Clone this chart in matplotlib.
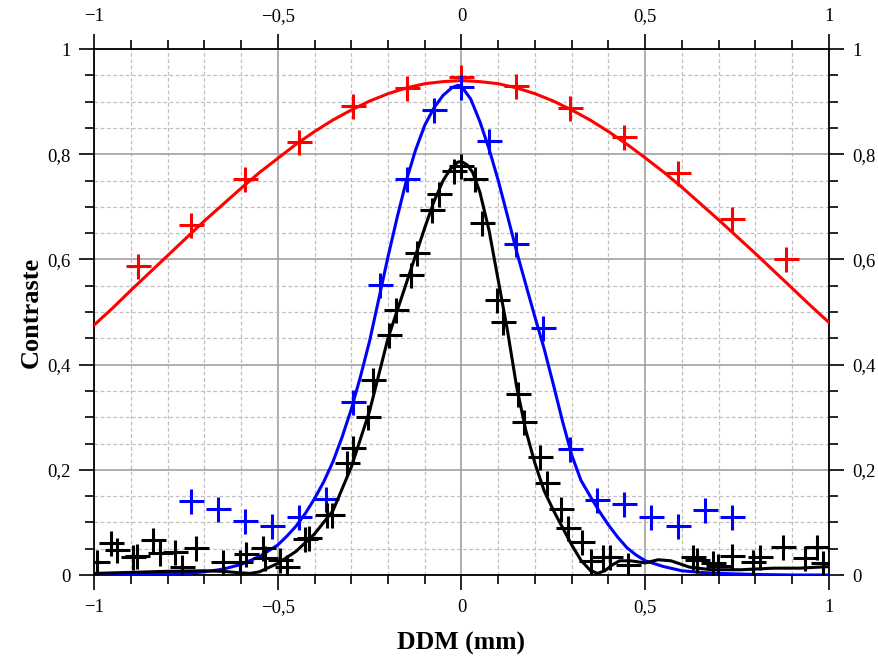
import matplotlib
matplotlib.use('Agg')
import matplotlib.pyplot as plt
from matplotlib.ticker import MultipleLocator, FixedLocator, FixedFormatter

plt.rcParams['font.family'] = ['Liberation Serif', 'DejaVu Serif']

# red series (points + fitted curve)
red_x = [-0.879, -0.735, -0.589, -0.441, -0.294, -0.147, 0.0, 0.147, 0.294, 0.441, 0.588, 0.735, 0.882]
red_y = [0.588, 0.665, 0.752, 0.824, 0.892, 0.925, 0.946, 0.929, 0.888, 0.832, 0.765, 0.676, 0.600]
red_fit_x = [-1.0, -0.95, -0.9, -0.85, -0.8, -0.75, -0.7, -0.65, -0.6, -0.55, -0.5, -0.45, -0.4,
             -0.35, -0.3, -0.25, -0.2, -0.15, -0.1, -0.05, 0.0, 0.05, 0.1, 0.15, 0.2, 0.25, 0.3,
             0.35, 0.4, 0.45, 0.5, 0.55, 0.6, 0.65, 0.7, 0.75, 0.8, 0.85, 0.9, 0.95, 1.0]
red_fit_y = [0.475, 0.507, 0.541, 0.574, 0.607, 0.640, 0.673, 0.704, 0.735, 0.765, 0.792, 0.819, 0.843,
             0.865, 0.884, 0.901, 0.915, 0.926, 0.934, 0.938, 0.940, 0.938, 0.934, 0.926, 0.915, 0.901,
             0.884, 0.865, 0.843, 0.819, 0.793, 0.766, 0.737, 0.706, 0.675, 0.643, 0.611, 0.578, 0.545,
             0.512, 0.480]

# blue series
blue_x = [-0.735, -0.662, -0.588, -0.515, -0.441, -0.368, -0.294, -0.221, -0.147, -0.074, 0.0,
          0.074, 0.147, 0.221, 0.294, 0.368, 0.441, 0.515, 0.588, 0.662, 0.735]
blue_y = [0.141, 0.125, 0.103, 0.094, 0.111, 0.144, 0.329, 0.551, 0.753, 0.884, 0.928,
          0.826, 0.629, 0.469, 0.240, 0.143, 0.135, 0.110, 0.094, 0.124, 0.110]
blue_fit_x = [-1.0, -0.9, -0.8, -0.75, -0.7, -0.65, -0.6, -0.55, -0.5, -0.475, -0.45, -0.425,
              -0.4, -0.375, -0.35, -0.325, -0.3, -0.275, -0.25, -0.225, -0.2, -0.175, -0.15,
              -0.125, -0.1, -0.075, -0.05, -0.025, -0.01, 0.0, 0.025, 0.05, 0.075, 0.1, 0.125,
              0.15, 0.175, 0.2, 0.225, 0.25, 0.275, 0.3, 0.325, 0.35, 0.375, 0.4, 0.425, 0.45,
              0.475, 0.5, 0.55, 0.6, 0.65, 0.7, 0.8, 0.9, 1.0]
blue_fit_y = [0.0, 0.001, 0.002, 0.003, 0.006, 0.011, 0.020, 0.035, 0.057, 0.074, 0.093, 0.117,
              0.145, 0.177, 0.215, 0.262, 0.315, 0.377, 0.445, 0.525, 0.605, 0.680, 0.750,
              0.808, 0.855, 0.888, 0.912, 0.927, 0.931, 0.929, 0.905, 0.862, 0.810, 0.750, 0.683,
              0.615, 0.552, 0.490, 0.430, 0.362, 0.292, 0.228, 0.180, 0.150, 0.121, 0.095, 0.072,
              0.052, 0.038, 0.027, 0.016, 0.008, 0.005, 0.003, 0.001, 0.0, 0.0]

# black series
black_x = [-0.993, -0.955, -0.938, -0.893, -0.882, -0.839, -0.820, -0.780, -0.761, -0.722,
           -0.648, -0.603, -0.586, -0.541, -0.535, -0.494, -0.476, -0.425, -0.415, -0.367,
           -0.353, -0.312, -0.294, -0.254, -0.240, -0.196, -0.178, -0.138, -0.121, -0.079,
           -0.061, -0.020, 0.000, 0.037, 0.055, 0.096, 0.113, 0.155, 0.170, 0.214,
           0.232, 0.270, 0.289, 0.329, 0.352, 0.386, 0.404, 0.454, 0.631, 0.640,
           0.685, 0.699, 0.735, 0.794, 0.812, 0.876, 0.935, 0.967, 0.985]
black_y = [0.025, 0.060, 0.048, 0.035, 0.037, 0.067, 0.041, 0.044, 0.016, 0.051,
           0.025, 0.025, 0.040, 0.051, 0.032, 0.029, 0.015, 0.068, 0.070, 0.114,
           0.114, 0.212, 0.241, 0.301, 0.370, 0.456, 0.504, 0.570, 0.612, 0.694,
           0.724, 0.769, 0.778, 0.752, 0.670, 0.523, 0.481, 0.345, 0.291, 0.225,
           0.174, 0.126, 0.089, 0.063, 0.027, 0.034, 0.034, 0.019, 0.034, 0.029,
           0.022, 0.017, 0.036, 0.025, 0.035, 0.054, 0.032, 0.054, 0.022]
black_fit_x = [-1.0, -0.9, -0.8, -0.7, -0.65, -0.6, -0.575, -0.55, -0.5, -0.45, -0.4, -0.35,
               -0.3, -0.25, -0.2, -0.15, -0.1, -0.075, -0.05, -0.03, -0.01, 0.0, 0.015, 0.03,
               0.05, 0.075, 0.1, 0.125, 0.15, 0.175, 0.2, 0.225, 0.25, 0.275, 0.3, 0.325, 0.35,
               0.37, 0.39, 0.41, 0.43, 0.46, 0.5, 0.535, 0.57, 0.62, 0.68, 0.76, 0.85, 0.92, 1.0]
black_fit_y = [0.003, 0.005, 0.007, 0.008, 0.007, 0.004, 0.003, 0.006, 0.022, 0.045, 0.078, 0.122,
               0.205, 0.312, 0.450, 0.555, 0.660, 0.710, 0.750, 0.772, 0.785, 0.786, 0.780, 0.766,
               0.728, 0.655, 0.560, 0.465, 0.358, 0.275, 0.212, 0.160, 0.123, 0.090, 0.057, 0.028,
               0.009, 0.003, 0.008, 0.019, 0.027, 0.027, 0.023, 0.029, 0.027, 0.015, 0.010, 0.010,
               0.013, 0.013, 0.016]

x_ticks = [-1, -0.5, 0, 0.5, 1]
x_labels = ['\u22121', '\u22120,5', '0', '0,5', '1']
y_ticks = [0, 0.2, 0.4, 0.6, 0.8, 1]
y_labels = ['0', '0,2', '0,4', '0,6', '0,8', '1']

fig = plt.figure(figsize=(8.79, 6.64), dpi=100)
ax = fig.add_axes([94 / 879, 1 - 575 / 664, 735 / 879, 526 / 664])

ax.plot(red_fit_x, red_fit_y, color='#ff0000', lw=2.2, zorder=3)
ax.plot(red_x, red_y, '+', color='#ff0000', ms=18, mew=2.2, zorder=3)
ax.plot(blue_fit_x, blue_fit_y, color='#0000ff', lw=2.2, zorder=4)
ax.plot(blue_x, blue_y, '+', color='#0000ff', ms=18, mew=2.2, zorder=4)
ax.plot(black_fit_x, black_fit_y, color='black', lw=2.2, zorder=5)
ax.plot(black_x, black_y, '+', color='black', ms=18, mew=2.2, zorder=5)

ax.set_xlim(-1, 1)
ax.set_ylim(0, 1)

ax.xaxis.set_major_locator(FixedLocator(x_ticks))
ax.xaxis.set_major_formatter(FixedFormatter(x_labels))
ax.xaxis.set_minor_locator(MultipleLocator(0.1))
ax.yaxis.set_major_locator(FixedLocator(y_ticks))
ax.yaxis.set_major_formatter(FixedFormatter(y_labels))
ax.yaxis.set_minor_locator(MultipleLocator(0.05))

ax.tick_params(which='both', direction='out', top=True, right=True,
               labeltop=True, labelright=True, labelsize=13.5, width=1.2)
ax.tick_params(which='major', length=11, pad=6)
ax.tick_params(which='minor', length=6.5)

ax.grid(which='major', color='#999999', lw=1.1, ls='-', zorder=0)
ax.grid(which='minor', color='#c0c0c0', lw=0.9, ls=(0, (3, 2)), zorder=0)
ax.set_axisbelow(True)

for sp in ax.spines.values():
    sp.set_linewidth(1.3)

ax.set_xlabel('DDM (mm)', fontsize=18.5, fontweight='bold', labelpad=12)
ax.set_ylabel('Contraste', fontsize=19, fontweight='bold', labelpad=3)

fig.savefig('out.png', dpi=100)
